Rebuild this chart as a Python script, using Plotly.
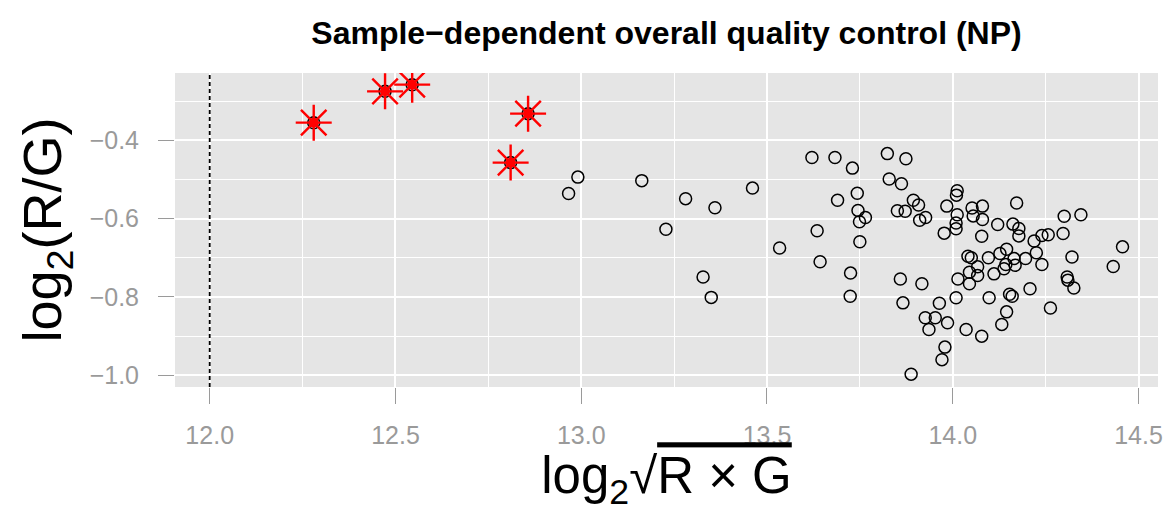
import plotly.graph_objects as go

# Array-level summary: A = log2 sqrt(R*G), M = log2(R/G)
a_values = [
    12.991, 12.966, 13.163, 13.281, 13.360, 13.461, 13.228, 13.534, 13.328, 13.350,
    13.621, 13.683, 13.730, 13.824, 13.874, 13.829, 13.862, 13.690, 13.743, 13.745,
    13.765, 13.749, 13.635, 13.750, 13.643, 13.725, 13.724, 13.851, 13.872, 13.894,
    13.908, 13.911, 13.927, 13.859, 13.917, 13.866, 13.964, 13.926, 13.953, 13.986,
    13.936, 14.036, 13.979, 13.971, 13.888, 14.012, 14.010, 13.984, 14.012, 14.009,
    14.009, 13.977, 14.052, 14.080, 14.055, 14.080, 14.172, 14.121, 14.162, 14.178,
    14.178, 14.078, 14.219, 14.240, 14.257, 14.225, 14.145, 14.127, 14.041, 14.050,
    14.096, 14.165, 14.196, 14.067, 14.143, 14.168, 14.240, 14.045, 14.111, 14.138,
    14.014, 14.067, 14.045, 14.208, 14.160, 14.153, 14.098, 14.009, 14.263, 14.145,
    14.132, 14.078, 14.300, 14.345, 14.297, 14.321, 14.457, 14.432, 14.308, 14.310,
    14.326,
]
m_values = [
    -0.494, -0.536, -0.503, -0.549, -0.572, -0.522, -0.627, -0.675, -0.749, -0.801,
    -0.444, -0.444, -0.471, -0.434, -0.447, -0.499, -0.511, -0.553, -0.535, -0.579,
    -0.597, -0.608, -0.631, -0.659, -0.710, -0.739, -0.798, -0.580, -0.581, -0.553,
    -0.565, -0.604, -0.597, -0.754, -0.766, -0.815, -0.816, -0.853, -0.853, -0.866,
    -0.883, -0.883, -0.928, -0.960, -0.997, -0.529, -0.540, -0.568, -0.590, -0.611,
    -0.626, -0.637, -0.573, -0.568, -0.593, -0.602, -0.560, -0.615, -0.614, -0.625,
    -0.644, -0.645, -0.657, -0.643, -0.641, -0.687, -0.678, -0.689, -0.696, -0.700,
    -0.700, -0.702, -0.702, -0.723, -0.717, -0.719, -0.717, -0.737, -0.741, -0.728,
    -0.754, -0.745, -0.766, -0.779, -0.798, -0.793, -0.802, -0.802, -0.828, -0.838,
    -0.870, -0.900, -0.594, -0.590, -0.638, -0.698, -0.672, -0.722, -0.749, -0.757,
    -0.777,
]

# Arrays flagged as failing the quality check
flag_a = [12.280, 12.472, 12.545, 12.857, 12.810]
flag_m = [-0.355, -0.275, -0.258, -0.332, -0.457]

# Intensity cut-off drawn as a dashed vertical line
a_cutoff = 12.0

x_ticks = [12.0, 12.5, 13.0, 13.5, 14.0, 14.5]
x_tick_text = ["12.0", "12.5", "13.0", "13.5", "14.0", "14.5"]
y_ticks = [-1.0, -0.8, -0.6, -0.4]
y_tick_text = ["\u22121.0", "\u22120.8", "\u22120.6", "\u22120.4"]

fig = go.Figure()

# red dot under the flagged circles
fig.add_trace(go.Scatter(
    x=flag_a, y=flag_m, mode="markers", hoverinfo="skip",
    marker=dict(symbol="circle", size=10, color="#FF0000", line=dict(width=0)),
))
# all arrays as open circles
fig.add_trace(go.Scatter(
    x=a_values + flag_a, y=m_values + flag_m, mode="markers",
    marker=dict(symbol="circle-open", size=12, color="black", line=dict(width=1.5, color="black")),
))
# star overlay for flagged arrays
fig.add_trace(go.Scatter(
    x=flag_a, y=flag_m, mode="markers",
    marker=dict(symbol="asterisk-open", size=30, color="#FF0000", line=dict(width=2.4, color="#FF0000")),
))

fig.add_vline(x=a_cutoff, line=dict(color="black", width=1.8, dash="4px,3px"))

tick_font = dict(family="Liberation Sans, Arial, sans-serif", size=25, color="#9a9a9a")

fig.update_layout(
    width=1169, height=512,
    margin=dict(l=175, r=6, t=73, b=125),
    paper_bgcolor="white",
    plot_bgcolor="#E5E5E5",
    showlegend=False,
    font=dict(family="Liberation Sans, Arial, sans-serif", color="black"),
    title=dict(
        text="<b>Sample\u2212dependent overall quality control (NP)</b>",
        x=0.5, xref="paper", xanchor="center",
        y=1 - 33 / 512, yref="container", yanchor="middle",
        font=dict(size=32, color="black"),
    ),
    xaxis=dict(
        range=[11.9066, 14.5525],
        tickmode="array", tickvals=x_ticks, ticktext=x_tick_text,
        ticks="outside", ticklen=16, tickwidth=1.2, tickcolor="#9a9a9a",
        ticklabelstandoff=10,
        tickfont=tick_font,
        showgrid=True, gridcolor="white", gridwidth=2.4,
        minor=dict(dtick=0.25, tick0=12.0, showgrid=True, gridcolor="white", gridwidth=1.1, ticks=""),
        zeroline=False, showline=False,
        title=dict(
            text=("log<sub>2</sub>\u221a<span style=\"text-decoration:overline;"
                  "text-decoration-thickness:2px\">R \u00d7 G</span>"),
            font=dict(size=51, color="black"), standoff=14,
        ),
    ),
    yaxis=dict(
        range=[-1.0298, -0.2282],
        tickmode="array", tickvals=y_ticks, ticktext=y_tick_text,
        ticks="outside", ticklen=16, tickwidth=1.2, tickcolor="#9a9a9a",
        ticklabelstandoff=14,
        tickfont=tick_font,
        showgrid=True, gridcolor="white", gridwidth=2.4,
        minor=dict(dtick=0.1, tick0=-1.0, showgrid=True, gridcolor="white", gridwidth=1.1, ticks=""),
        zeroline=False, showline=False,
        title=dict(
            text="log<sub>2</sub>(R/G)",
            font=dict(size=54, color="black"), standoff=10,
        ),
    ),
)

fig.write_html("out.html")
